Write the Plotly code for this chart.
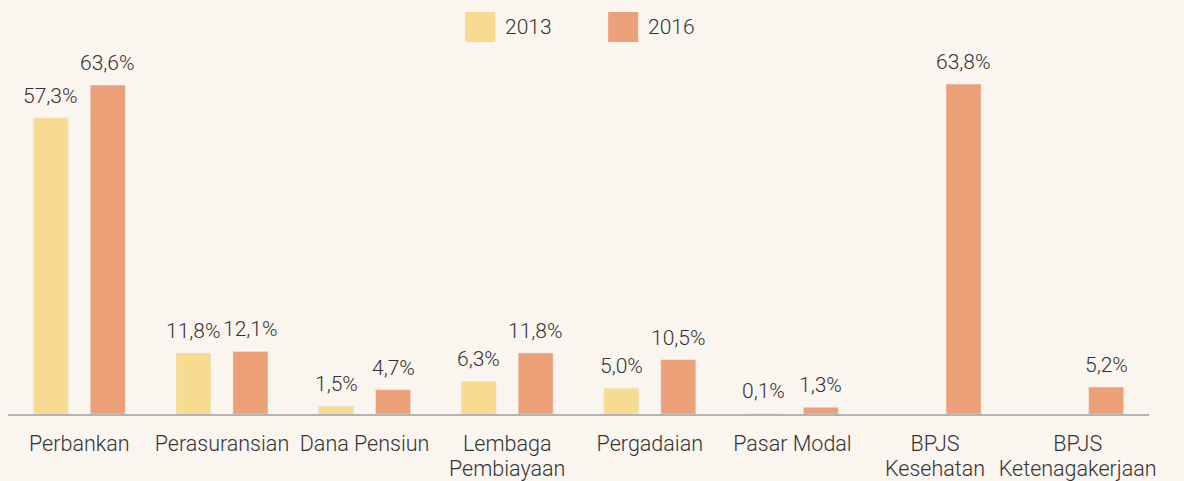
import plotly.graph_objects as go

categories = ["Perbankan", "Perasuransian", "Dana Pensiun", "Lembaga<br>Pembiayaan",
              "Pergadaian", "Pasar Modal", "BPJS<br>Kesehatan", "BPJS<br>Ketenagakerjaan"]
values_2013 = [57.3, 11.8, 1.5, 6.3, 5.0, 0.1, None, None]
values_2016 = [63.6, 12.1, 4.7, 11.8, 10.5, 1.3, 63.8, 5.2]
series_names = ["2013", "2016"]
colors = ["#F7DB90", "#ECA077"]

BG = "#FAF5EF"
TXT = "#333333"
FONT = "Roboto"
FS = 21.5
FS_VAL = 21

fig = go.Figure()
for name, vals, col, shift in zip(series_names, [values_2013, values_2016], colors, [-28.5, 28.5]):
    fig.add_trace(go.Bar(
        x=categories, y=vals, name=name, marker_color=col,
        showlegend=False, hoverinfo="x+y",
    ))
    for c, v in zip(categories, vals):
        if v is None:
            continue
        fig.add_annotation(x=c, y=v, xref="x", yref="y", xshift=shift, yshift=8,
                           text=f"{v:.1f}".replace(".", ",") + "%", showarrow=False,
                           xanchor="center", yanchor="bottom",
                           font=dict(family=FONT, size=FS_VAL, color=TXT, weight=300))

# tick labels: larger glyphs on a tighter line spacing
tick_text = ["<br>".join(f'<span style="font-size:{FS}px">{part}</span>' for part in c.split("<br>"))
             for c in categories]

# custom legend (large squares)
plot_l, plot_r, plot_t, plot_b = 7.6, 1149, 52, 414
W, H = plot_r - plot_l, plot_b - plot_t
def px(x):
    return (x - plot_l) / W
def py(y):
    return (plot_b - y) / H

for name, col, x0 in zip(series_names, colors, [465, 608]):
    fig.add_shape(type="rect", xref="paper", yref="paper",
                  x0=px(x0), x1=px(x0 + 30), y0=py(42), y1=py(12),
                  fillcolor=col, line_width=0)
    fig.add_annotation(xref="paper", yref="paper", x=px(x0 + 38), y=py(27),
                       text=name, showarrow=False, xanchor="left", yanchor="middle",
                       font=dict(family=FONT, size=FS_VAL, color=TXT, weight=300))

fig.update_layout(
    width=1184, height=481,
    paper_bgcolor=BG, plot_bgcolor=BG,
    margin=dict(l=plot_l, r=1184 - plot_r, t=plot_t, b=481 - plot_b, autoexpand=False),
    barmode="group", bargap=0.201, bargroupgap=0.386,
    separators=",.",
    font=dict(family=FONT, size=FS, color=TXT, weight=300),
    xaxis=dict(showline=True, linecolor="#B3B3B3", linewidth=2, ticks="",
               tickmode="array", tickvals=categories, ticktext=tick_text,
               tickfont=dict(family=FONT, size=19.2, color=TXT, weight=300),
               ticklabelstandoff=12, automargin=False),
    yaxis=dict(range=[0, 70], visible=False, showgrid=False, zeroline=False,
               automargin=False),
)

fig.write_html("out.html", config={"displayModeBar": False},
               post_script="document.body.style.margin='0';document.body.style.background='" + BG + "';")
